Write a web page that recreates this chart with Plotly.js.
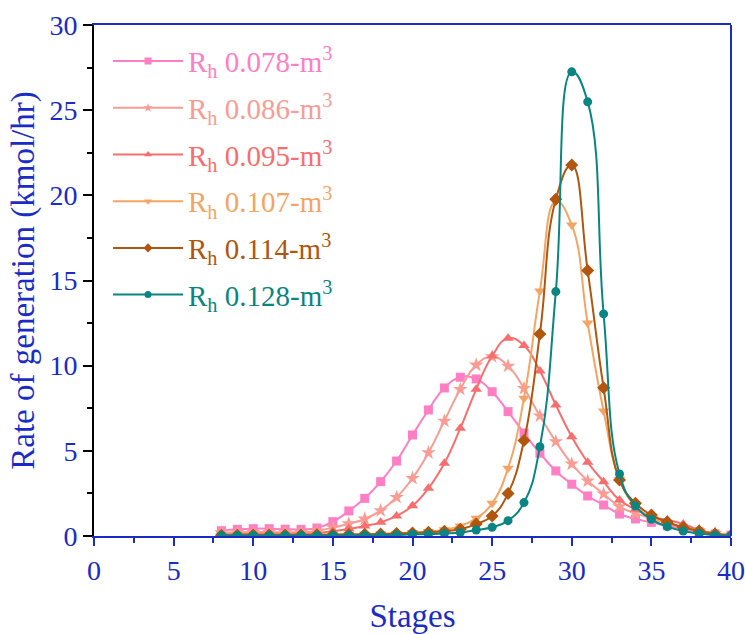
<!DOCTYPE html>
<html>
<head>
<meta charset="utf-8">
<script src="https://cdn.plot.ly/plotly-3.0.1.min.js"></script>
<style>html,body{margin:0;padding:0;background:#fff;}#chart{width:745px;height:634px;}</style>
</head>
<body>
<div id="chart"></div>
<script>
const stages = [8,9,10,11,12,13,14,15,16,17,18,19,20,21,22,23,24,25,26,27,28,29,30,31,32,33,34,35,36,37,38,39,40];
const seriesNames = ['0.078','0.086','0.095','0.107','0.114','0.128'];
const rh078 = [0.31,0.39,0.43,0.43,0.40,0.39,0.47,0.84,1.47,2.21,3.19,4.40,5.93,7.40,8.69,9.32,9.22,8.47,7.30,6.05,4.86,3.82,3.04,2.35,1.82,1.29,1.00,0.80,0.60,0.42,0.25,0.12,0.05];
const rh086 = [0.20,0.22,0.23,0.23,0.22,0.22,0.30,0.49,0.72,1.00,1.49,2.27,3.39,4.89,6.75,8.61,10.04,10.53,9.98,8.67,7.05,5.54,4.23,3.23,2.47,1.72,1.33,1.04,0.75,0.50,0.30,0.15,0.05];
const rh095 = [0.10,0.12,0.13,0.13,0.13,0.13,0.18,0.28,0.42,0.59,0.80,1.18,1.77,2.80,4.27,6.32,8.61,10.57,11.61,11.18,9.69,7.69,5.83,4.33,3.19,2.11,1.57,1.13,0.94,0.70,0.35,0.15,0.05];
const rh107 = [0.06,0.06,0.07,0.07,0.07,0.07,0.08,0.09,0.10,0.11,0.12,0.15,0.20,0.27,0.36,0.59,1.04,1.92,3.98,8.09,14.39,19.65,18.26,12.50,7.34,3.33,1.75,1.10,0.75,0.50,0.30,0.12,0.03];
const rh114 = [0.05,0.05,0.06,0.06,0.06,0.06,0.07,0.08,0.09,0.10,0.12,0.15,0.18,0.22,0.28,0.40,0.70,1.17,2.50,5.60,11.86,19.77,21.78,15.58,8.71,3.29,1.92,1.23,0.82,0.50,0.30,0.12,0.03];
const rh128 = [0.03,0.03,0.03,0.03,0.03,0.03,0.03,0.03,0.04,0.04,0.05,0.06,0.10,0.11,0.15,0.20,0.35,0.51,0.90,1.96,5.24,14.35,27.25,25.49,13.04,3.64,1.76,0.98,0.55,0.29,0.15,0.05,0.02];
const xTicks = [0,5,10,15,20,25,30,35,40];
const yTicks = [0,5,10,15,20,25,30];

const allSeries = [rh078, rh086, rh095, rh107, rh114, rh128];
const colors = ['#ff7ec4','#fa9c94','#f86e6e','#f6a464','#b0560f','#0a8582'];
const symbols = ['square','star','triangle-up','triangle-down','diamond','circle'];
const sizes = [9,11,10,10,10,9];

const blue = '#1a2cc4';
const font = '"Liberation Serif", "Times New Roman", serif';

const traces = [];
allSeries.forEach((ys, i) => {
  traces.push({
    x: stages, y: ys, type: 'scatter', mode: 'lines+markers',
    line: {color: colors[i], width: 2, shape: 'spline', smoothing: 1.3},
    marker: {color: colors[i], symbol: symbols[i], size: sizes[i]},
    showlegend: false, hoverinfo: 'x+y'
  });
});
allSeries.forEach((ys, i) => {
  traces.push({
    x: [null], y: [null], type: 'scatter', mode: 'lines+markers',
    line: {color: colors[i], width: 2},
    marker: {color: colors[i], symbol: symbols[i], size: 7},
    name: '<span style="color:' + colors[i] + '">R<sub>h</sub> ' + seriesNames[i] + '-m<sup>3</sup></span>',
    legendgroup: 'g' + i,
    showlegend: true
  });
});

const layout = {
  width: 745, height: 634,
  margin: {l: 94, r: 14, t: 25, b: 98},
  paper_bgcolor: '#fff', plot_bgcolor: '#fff',
  font: {family: font, color: blue},
  showlegend: true,
  legend: {
    x: 0.022, y: 0.979, xanchor: 'left', yanchor: 'top',
    bgcolor: 'rgba(0,0,0,0)', borderwidth: 0,
    font: {family: font, size: 29},
    itemwidth: 70, traceorder: 'grouped', tracegroupgap: 6
  },
  xaxis: {
    range: [0, 40], tickvals: xTicks, ticktext: xTicks.map(String),
    showgrid: false, zeroline: false,
    showline: true, linecolor: blue, linewidth: 2, mirror: true,
    ticks: 'outside', ticklen: 8, tickwidth: 2, tickcolor: blue,
    tickfont: {family: font, size: 28, color: blue},
    minor: {dtick: 2.5, tick0: 0, ticks: 'outside', ticklen: 5, tickwidth: 2, tickcolor: blue, showgrid: false},
    title: {text: 'Stages', font: {family: font, size: 33, color: blue}, standoff: 20}
  },
  yaxis: {
    range: [0, 30], tickvals: yTicks, ticktext: yTicks.map(String),
    showgrid: false, zeroline: false,
    showline: true, linecolor: '#000', linewidth: 2,
    ticks: 'outside', ticklen: 9, tickwidth: 2, tickcolor: '#000',
    tickfont: {family: font, size: 28, color: blue},
    minor: {dtick: 2.5, tick0: 0, ticks: 'outside', ticklen: 5, tickwidth: 2, tickcolor: '#000', showgrid: false},
    title: {text: 'Rate of generation (kmol/hr)', font: {family: font, size: 33, color: blue}, standoff: 5}
  },
  shapes: [
    {type: 'line', xref: 'paper', yref: 'paper', x0: 1, x1: 1, y0: 0, y1: 1, line: {color: blue, width: 2}}
  ]
};

Plotly.newPlot('chart', traces, layout, {displayModeBar: false, staticPlot: true});
</script>
</body>
</html>
